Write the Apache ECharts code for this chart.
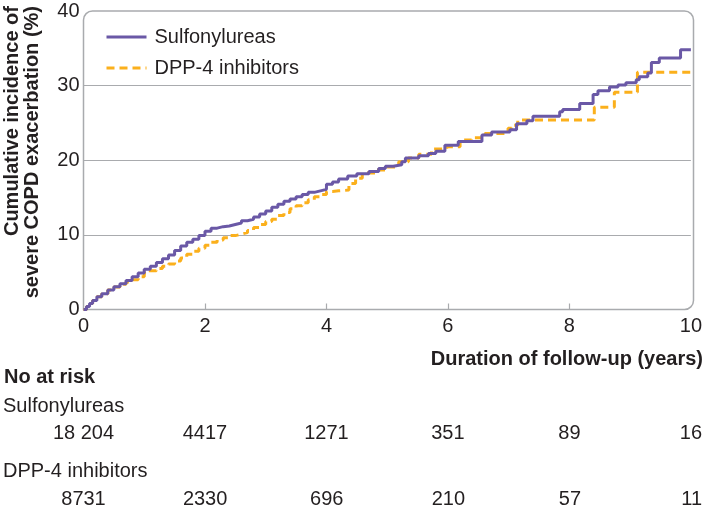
<!DOCTYPE html>
<html>
<head>
<meta charset="utf-8">
<script src="https://cdn.jsdelivr.net/npm/echarts@6/dist/echarts.min.js"></script>
<style>html,body{margin:0;padding:0;background:#fff}#c{width:705px;height:511px}</style>
</head>
<body>
<div id="c"></div>
<script>
// ---- data ----
var seriesNames = ['Sulfonylureas', 'DPP-4 inhibitors'];
var sulfTimes = [0,0.05,0.1,0.15,0.22,0.3,0.4,0.5,0.6,0.7,0.8,0.9,1.0,1.1,1.2,1.3,1.4,1.5,1.6,1.7,1.8,1.9,2.0,2.1,2.2,2.3,2.4,2.5,2.6,2.7,2.8,2.9,3.0,3.1,3.2,3.3,3.4,3.5,3.6,3.7,3.8,3.9,4.0,4.1,4.2,4.35,4.5,4.7,4.86,4.97,5.1,5.24,5.3,5.52,5.68,5.8,5.95,6.17,6.56,6.72,7.02,7.13,7.3,7.40,7.84,7.89,8.17,8.39,8.47,8.66,8.80,8.93,9.10,9.15,9.29,9.35,9.48,9.83,10.0];
var sulfValues = [0,0.4,0.8,1.2,1.7,2.1,2.6,3.05,3.45,3.9,4.4,4.9,5.4,5.8,6.3,6.8,7.3,7.9,8.5,9.0,9.4,9.9,10.5,10.9,11.1,11.2,11.4,11.6,11.9,12.1,12.4,12.8,13.2,13.7,14.1,14.5,14.8,15.1,15.4,15.7,15.9,16.1,16.8,17.1,17.5,17.9,18.2,18.5,18.9,19.2,19.4,19.8,20.3,20.6,20.9,21.2,22.0,22.5,23.4,23.8,24.1,24.9,25.3,25.9,26.5,26.8,27.6,28.8,29.3,29.8,30.1,30.4,30.8,31.2,31.7,33.1,33.7,34.8,34.8];
var dppTimes = [0,0.05,0.1,0.15,0.22,0.3,0.4,0.5,0.6,0.7,0.8,0.9,1.0,1.1,1.2,1.3,1.4,1.5,1.6,1.7,1.8,1.9,2.0,2.1,2.2,2.3,2.4,2.5,2.6,2.7,2.8,2.9,3.0,3.1,3.2,3.3,3.4,3.5,3.6,3.7,3.8,3.9,4.0,4.1,4.2,4.37,4.48,4.59,4.8,4.97,5.19,5.35,5.52,5.73,5.98,6.20,6.39,6.61,6.99,7.05,7.15,8.41,8.74,9.12,10.0];
var dppValues = [0,0.4,0.8,1.2,1.7,2.1,2.6,3.0,3.4,3.7,4.0,4.4,4.9,5.2,5.5,5.8,6.1,6.5,6.9,7.4,7.8,8.2,8.6,9.0,9.3,9.6,9.9,10.1,10.3,10.6,11.0,11.4,11.8,12.1,12.6,13.0,13.5,13.9,14.3,14.7,15.1,15.4,15.8,15.9,16.0,16.9,17.6,18.3,18.7,19.1,19.8,20.3,20.8,21.5,21.8,22.7,23.0,23.6,24.3,24.7,25.4,27.1,29.1,31.8,31.8];
var xTicks = [0,2,4,6,8,10];
var yTicks = [0,10,20,30,40];
var riskSulf = ['18 204','4417','1271','351','89','16'];
var riskDpp = ['8731','2330','696','210','57','11'];
var yTitle = 'Cumulative incidence of\nsevere COPD exacerbation (%)';
var xTitle = 'Duration of follow-up (years)';
var riskTitle = 'No at risk';

// ---- style ----
var FONT = "'Liberation Sans', Arial, sans-serif";
var TXT = '#231f20';
var GRAY = '#a9abae';
var PURPLE = '#6a58a6';
var ORANGE = '#fbb01c';
var G = {left: 83.5, top: 11, right: 11.5, bottom: 201.5};
var W = 705, H = 511;

function pairs(t, v){ return t.map(function(x,i){ return [x, v[i]]; }); }

var chart = echarts.init(document.getElementById('c'), null, {renderer: 'canvas'});

function riskAxis(gi, arr){
  return {
    type: 'value', gridIndex: gi, min: xTicks[0], max: xTicks[xTicks.length-1], interval: 2,
    axisLine: {show: false}, axisTick: {show: false}, splitLine: {show: false},
    axisLabel: {margin: 0, verticalAlign: 'middle', fontSize: 20, fontFamily: FONT, color: TXT,
      formatter: function(v){ var i = xTicks.indexOf(v); return i >= 0 ? arr[i] : ''; }}
  };
}

chart.setOption({
  animation: false,
  backgroundColor: '#fff',
  grid: [
    {left: G.left, top: G.top, right: G.right, bottom: G.bottom},
    {left: G.left, right: G.right, top: 432, height: 1},
    {left: G.left, right: G.right, top: 498, height: 1}
  ],
  legend: {
    orient: 'vertical', left: 105, top: 27, padding: 0,
    itemWidth: 40, itemHeight: 16, itemGap: 11,
    data: seriesNames,
    itemStyle: {opacity: 0},
    lineStyle: {width: 3},
    textStyle: {fontSize: 20, fontFamily: FONT, color: TXT, padding: [0,0,0,3]}
  },
  xAxis: [
    {
      type: 'value', gridIndex: 0, min: 0, max: 10, interval: 2,
      axisLine: {show: false},
      axisTick: {show: true, inside: true, length: 6, customValues: [2,4,6,8], lineStyle: {color: GRAY, width: 1.2}},
      splitLine: {show: false},
      axisLabel: {margin: 7, fontSize: 20, fontFamily: FONT, color: TXT}
    },
    riskAxis(1, riskSulf),
    riskAxis(2, riskDpp)
  ],
  yAxis: [
    {
      type: 'value', gridIndex: 0, min: 0, max: 40, interval: 10,
      axisLine: {show: false}, axisTick: {show: false},
      splitLine: {show: true, showMinLine: false, showMaxLine: false, lineStyle: {color: GRAY, width: 1.2}},
      axisLabel: {margin: 4, fontSize: 20, fontFamily: FONT, color: TXT}
    },
    {type: 'value', gridIndex: 1, show: false, min: 0, max: 1},
    {type: 'value', gridIndex: 2, show: false, min: 0, max: 1}
  ],
  series: [
    {
      name: seriesNames[0], type: 'line', step: 'end', symbol: 'none', z: 4,
      data: pairs(sulfTimes, sulfValues),
      lineStyle: {color: PURPLE, width: 3}, itemStyle: {color: PURPLE}
    },
    {
      name: seriesNames[1], type: 'line', step: 'end', symbol: 'none', z: 3,
      data: pairs(dppTimes, dppValues),
      lineStyle: {color: ORANGE, width: 3, type: [8,5]}, itemStyle: {color: ORANGE}
    }
  ],
  graphic: [
    {
      type: 'rect', z: 0, silent: true,
      shape: {x: G.left, y: G.top, width: W - G.left - G.right, height: H - G.top - G.bottom, r: [9,9,9,0]},
      style: {fill: 'none', stroke: GRAY, lineWidth: 1.5}
    },
    {
      type: 'text', x: 2, y: 6, rotation: Math.PI/2, silent: true,
      style: {text: yTitle, font: 'bold 20px ' + FONT, fill: TXT, align: 'right', verticalAlign: 'top', lineHeight: 20}
    },
    {
      type: 'text', x: 703, y: 359, silent: true,
      style: {text: xTitle, font: 'bold 20px ' + FONT, fill: TXT, align: 'right', verticalAlign: 'middle'}
    },
    {
      type: 'text', x: 4, y: 377, silent: true,
      style: {text: riskTitle, font: 'bold 20px ' + FONT, fill: TXT, align: 'left', verticalAlign: 'middle'}
    },
    {
      type: 'text', x: 3, y: 406, silent: true,
      style: {text: seriesNames[0], font: '20px ' + FONT, fill: TXT, align: 'left', verticalAlign: 'middle'}
    },
    {
      type: 'text', x: 3, y: 471, silent: true,
      style: {text: seriesNames[1], font: '20px ' + FONT, fill: TXT, align: 'left', verticalAlign: 'middle'}
    }
  ]
});
</script>
</body>
</html>
